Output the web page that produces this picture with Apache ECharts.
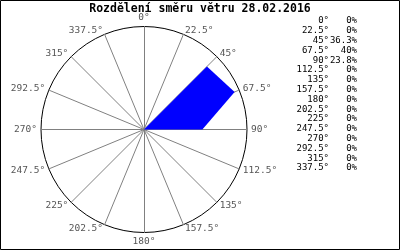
<!DOCTYPE html>
<html><head><meta charset="utf-8">
<script src="https://cdn.jsdelivr.net/npm/echarts@6/dist/echarts.min.js"></script>
<style>html,body{margin:0;padding:0;background:#fff}#c{width:400px;height:250px}</style>
</head><body><div id="c"></div>
<script>
var titleText = 'Rozdělení směru větru 28.02.2016';
var directions = [0,22.5,45,67.5,90,112.5,135,157.5,180,202.5,225,247.5,270,292.5,315,337.5];
var shares = [0,0,36.3,40,23.8,0,0,0,0,0,0,0,0,0,0,0];
var radiusMax = 42;

var FONT = '"DejaVu Sans Mono", "Liberation Mono", monospace';
var chart = echarts.init(document.getElementById('c'), null, {renderer:'canvas'});

var legendEls = [];
for (var i = 0; i < directions.length; i++) {
  var y = 21 + i * 9.8;
  legendEls.push({type:'text', x:329, y:y, style:{text:directions[i] + '°', fill:'#000', font:'9px ' + FONT, textAlign:'right', textVerticalAlign:'middle'}});
  legendEls.push({type:'text', x:357, y:y, style:{text:shares[i] + '%', fill:'#000', font:'9px ' + FONT, textAlign:'right', textVerticalAlign:'middle'}});
}
legendEls.push({type:'text', x:200, y:9.5, style:{text:titleText, fill:'#000', font:'bold 11.5px ' + FONT, textAlign:'center', textVerticalAlign:'middle'}});
legendEls.push({type:'rect', shape:{x:0.5, y:0.5, width:399, height:249}, style:{fill:null, stroke:'#000', lineWidth:1}, silent:true});

// radar runs counter-clockwise, so feed directions in reverse order starting at 0
var order = [0];
for (var k = directions.length - 1; k >= 1; k--) order.push(k);
var indicators = order.map(function(i){ return {name: directions[i] + '°', min:0, max:radiusMax}; });
var values = order.map(function(i){ return shares[i]; });

chart.setOption({
  animation:false,
  radar:{
    center:[144,129.5], radius:103, startAngle:90, shape:'circle', splitNumber:1,
    indicator:indicators,
    axisName:{color:'#555', fontFamily:FONT, fontSize:9.5},
    nameGap:4,
    axisLine:{show:true, lineStyle:{color:'#808080', width:1}},
    axisTick:{show:false}, axisLabel:{show:false},
    splitLine:{show:true, lineStyle:{color:'#000', width:1}},
    splitArea:{show:false}
  },
  series:[{
    type:'radar', symbol:'none', z:3,
    data:[{value:values}],
    lineStyle:{width:0, color:'#0000ff'}, areaStyle:{color:'#0000ff', opacity:1}
  }],
  graphic:legendEls
});
</script></body></html>
